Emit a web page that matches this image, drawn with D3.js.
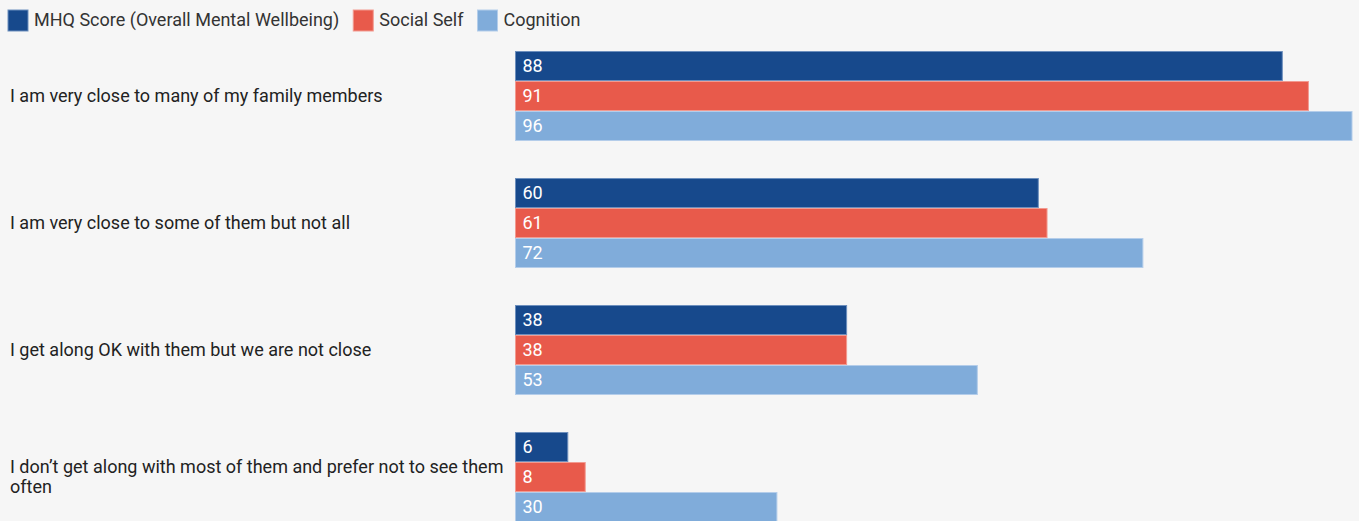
<!DOCTYPE html>
<html>
<head>
<meta charset="utf-8">
<script src="https://cdn.jsdelivr.net/npm/d3@7"></script>
<style>
  body { margin: 0; background: #f6f6f6; font-family: Roboto, sans-serif; }
</style>
</head>
<body>
<div id="chart"></div>
<script>
var categories = [
  "I am very close to many of my family members",
  "I am very close to some of them but not all",
  "I get along OK with them but we are not close",
  "I don\u2019t get along with most of them and prefer not to see them often"
];
var seriesNames = ["MHQ Score (Overall Mental Wellbeing)", "Social Self", "Cognition"];
var mhq = [88, 60, 38, 6];
var socialSelf = [91, 61, 38, 8];
var cognition = [96, 72, 53, 30];

var colors = ["#17498c", "#e85a4b", "#80acda"];
var strokes = ["#6d8fbd", "#f29a90", "#b4cdea"];

var width = 1359, height = 521;

var svg = d3.select("#chart")
  .append("svg")
  .attr("width", width)
  .attr("height", height);

svg.append("rect").attr("width", width).attr("height", height).attr("fill", "#f6f6f6");

var values = [mhq, socialSelf, cognition];
var data = categories.map(function (c, i) {
  return { cat: c, vals: values.map(function (v, s) { return { s: s, v: v[i] }; }) };
});

var y0 = d3.scaleBand()
  .domain(categories)
  .range([32.5, 540.5])
  .paddingInner(37 / 127)
  .paddingOuter(37 / 254);

var y1 = d3.scaleBand()
  .domain(d3.range(seriesNames.length))
  .range([0, y0.bandwidth()]);

var x = d3.scaleLinear()
  .domain([0, d3.max(cognition)])
  .range([515.5, 1352]);

// legend
var lx = 8;
var legend = svg.append("g");
seriesNames.forEach(function (name, i) {
  var g = legend.append("g").attr("transform", "translate(" + lx + ",10)");
  g.append("rect")
    .attr("width", 20).attr("height", 21)
    .attr("fill", colors[i]).attr("stroke", strokes[i]).attr("stroke-width", 1);
  var t = g.append("text")
    .attr("x", 26).attr("y", 10).attr("dy", "0.35em")
    .style("font-size", "18px").attr("fill", "#333")
    .text(name);
  lx += 26 + t.node().getComputedTextLength() + 14;
});

// category labels, wrapped
function wrap(text, w) {
  text.each(function () {
    var t = d3.select(this);
    var cy = +t.attr("y");
    var words = t.text().split(/\s+/);
    var lines = [], line = [];
    t.text(null);
    var tspan = t.append("tspan");
    words.forEach(function (word) {
      line.push(word);
      tspan.text(line.join(" "));
      if (tspan.node().getComputedTextLength() > w && line.length > 1) {
        line.pop();
        lines.push(line.join(" "));
        line = [word];
      }
    });
    lines.push(line.join(" "));
    t.text(null);
    var lh = 20;
    var off = -(lines.length - 1) * lh / 2;
    lines.forEach(function (l, k) {
      t.append("tspan")
        .attr("x", 10)
        .attr("y", cy + off + k * lh)
        .attr("dy", "0.35em")
        .text(l);
    });
  });
}

svg.selectAll(".cat")
  .data(categories)
  .enter()
  .append("text")
  .attr("class", "cat")
  .attr("x", 10)
  .attr("y", function (d) { return y0(d) + y0.bandwidth() / 2; })
  .style("font-size", "18px")
  .attr("fill", "#222")
  .text(function (d) { return d; })
  .call(wrap, 500);

// bars
var groups = svg.selectAll(".grp")
  .data(data)
  .enter()
  .append("g")
  .attr("class", "grp")
  .attr("transform", function (d) { return "translate(0," + y0(d.cat) + ")"; });

groups.selectAll("rect")
  .data(function (d) { return d.vals; })
  .enter()
  .append("rect")
  .attr("x", x(0))
  .attr("y", function (d) { return y1(d.s) + 0.5; })
  .attr("width", function (d) { return x(d.v) - x(0); })
  .attr("height", y1.bandwidth() - 1)
  .attr("fill", function (d) { return colors[d.s]; })
  .attr("stroke", function (d) { return strokes[d.s]; })
  .attr("stroke-width", 1);

groups.selectAll(".val")
  .data(function (d) { return d.vals; })
  .enter()
  .append("text")
  .attr("class", "val")
  .attr("x", x(0) + 7)
  .attr("y", function (d) { return y1(d.s) + y1.bandwidth() / 2; })
  .attr("dy", "0.35em")
  .style("font-size", "18px")
  .attr("fill", "#fff")
  .text(function (d) { return d.v; });
</script>
</body>
</html>
